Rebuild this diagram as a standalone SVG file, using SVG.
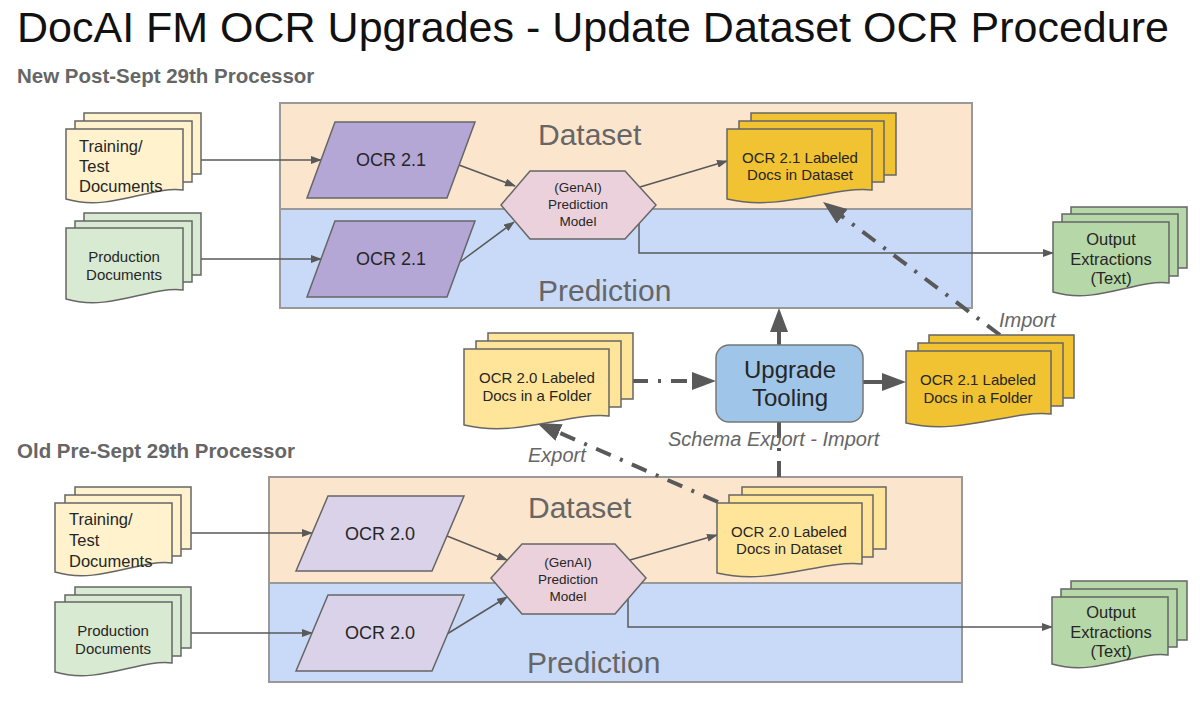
<svg xmlns="http://www.w3.org/2000/svg" width="1200" height="723" viewBox="0 0 1200 723">
<style>
text{font-family:"Liberation Sans",Arial,sans-serif;fill:#262626}
.title{font-size:43px;fill:#111}
.sub{font-size:20.5px;font-weight:bold;fill:#666}
.area{font-size:30px;fill:#666}
.lbl{font-size:20px;font-style:italic;fill:#666}
.ds{fill:#fce5cd;stroke:#999;stroke-width:2}
.pr{fill:#c9daf8;stroke:#999;stroke-width:2}
.shp{stroke:#666;stroke-width:1.5}
.t16{font-size:16.5px}
.t15{font-size:15px}
.t18{font-size:18px}
.t13{font-size:13.5px}
.c{text-anchor:middle}
.thin{fill:none;stroke:#595959;stroke-width:1.5}
.thick{fill:none;stroke:#595959;stroke-width:4}
.dd{stroke-dasharray:16 10 3 10}
</style>
<defs>
<marker id="ah" viewBox="0 0 11 8" refX="10" refY="4" markerWidth="11" markerHeight="8" markerUnits="userSpaceOnUse" orient="auto"><path d="M0,0 L11,4 L0,8 Z" fill="#595959"/></marker>
<marker id="big" viewBox="0 0 24 18" refX="2" refY="9" markerWidth="24" markerHeight="18" markerUnits="userSpaceOnUse" orient="auto"><path d="M0,0 L24,9 L0,18 Z" fill="#595959"/></marker>
</defs>
<rect width="1200" height="723" fill="#fff"/>
<text class="title" x="17" y="42">DocAI FM OCR Upgrades - Update Dataset OCR Procedure</text>
<text class="sub" x="17" y="83">New Post-Sept 29th Processor</text>
<text class="sub" x="17" y="458">Old Pre-Sept 29th Processor</text>

<g id="top-dataset"><rect class="ds" x="280" y="103" width="692" height="106"/><text class="area" x="538" y="145">Dataset</text></g>
<g id="top-prediction"><rect class="pr" x="280" y="209" width="692" height="99"/><text class="area" x="538" y="301">Prediction</text></g>
<g id="bot-dataset"><rect class="ds" x="269" y="477" width="693" height="106"/><text class="area" x="528" y="518">Dataset</text></g>
<g id="bot-prediction"><rect class="pr" x="269" y="583" width="693" height="99"/><text class="area" x="527" y="673">Prediction</text></g>

<g id="connectors">
<path class="thin" d="M201,160 H321" marker-end="url(#ah)"/>
<path class="thin" d="M201,259 H321" marker-end="url(#ah)"/>
<path class="thin" d="M459,165 L515,186" marker-end="url(#ah)"/>
<path class="thin" d="M460,262 L514,222" marker-end="url(#ah)"/>
<path class="thin" d="M640,187 L727,161" marker-end="url(#ah)"/>
<path class="thin" d="M639,224 V253 H1053" marker-end="url(#ah)"/>
<path class="thin" d="M191,533 H312" marker-end="url(#ah)"/>
<path class="thin" d="M191,633 H312" marker-end="url(#ah)"/>
<path class="thin" d="M447,536 L507,560" marker-end="url(#ah)"/>
<path class="thin" d="M447,634 L507,597" marker-end="url(#ah)"/>
<path class="thin" d="M630,560 L717,535" marker-end="url(#ah)"/>
<path class="thin" d="M628,599 V627 H1052" marker-end="url(#ah)"/>
<path class="thick dd" d="M632,381 H694" marker-end="url(#big)"/>
<path class="thick" d="M863,382 H884" marker-end="url(#big)"/>
<path class="thick" d="M779,345 V330" marker-end="url(#big)"/>
<path class="thick dd" d="M779,422 V477"/>
<path class="thick dd" d="M718,502 L557.2,431.8" marker-end="url(#big)"/>
<path class="thick dd" d="M1000,335 L840.6,215.2" marker-end="url(#big)"/>
</g>

<g id="top-training">
<rect class="shp" x="84" y="113" width="117" height="61" fill="#fff2cc"/>
<rect class="shp" x="75" y="121" width="117" height="61" fill="#fff2cc"/>
<path class="shp" d="M66,129 H183 V190 C150,186 110,212 66,199 Z" fill="#fff2cc"/>
<text class="t16" x="79" y="152">Training/</text><text class="t16" x="79" y="172">Test</text><text class="t16" x="79" y="192">Documents</text>
</g>
<g id="top-production">
<rect class="shp" x="84" y="213" width="117" height="62" fill="#d9ead3"/>
<rect class="shp" x="75" y="221" width="117" height="61" fill="#d9ead3"/>
<path class="shp" d="M66,228 H183 V290 C150,286 110,312 66,299 Z" fill="#d9ead3"/>
<text class="t15 c" x="124" y="262">Production</text><text class="t15 c" x="124" y="280">Documents</text>
</g>
<g id="top-ocr-a"><polygon class="shp" points="335,122 475,122 447,198 307,198" fill="#b4a7d6"/><text class="t18 c" x="391" y="166">OCR 2.1</text></g>
<g id="top-ocr-b"><polygon class="shp" points="335,221 475,221 447,297 307,297" fill="#b4a7d6"/><text class="t18 c" x="391" y="265">OCR 2.1</text></g>
<g id="top-model"><polygon class="shp" points="501,205 530,171 625,171 656,205 625,239 530,239" fill="#ead1dc"/>
<text class="t13 c" x="578" y="192">(GenAI)</text><text class="t13 c" x="578" y="209">Prediction</text><text class="t13 c" x="578" y="226">Model</text></g>
<g id="top-labeled">
<rect class="shp" x="751" y="113" width="145" height="62" fill="#f1c232"/>
<rect class="shp" x="739" y="121" width="145" height="61" fill="#f1c232"/>
<path class="shp" d="M727,129 H872 V190 C831,186 782,212 727,199 Z" fill="#f1c232"/>
<text class="t15 c" x="800" y="163">OCR 2.1 Labeled</text><text class="t15 c" x="800" y="180">Docs in Dataset</text>
</g>
<g id="top-output">
<rect class="shp" x="1071" y="207" width="116" height="61" fill="#b6d7a8"/>
<rect class="shp" x="1062" y="214" width="116" height="62" fill="#b6d7a8"/>
<path class="shp" d="M1053,222 H1169 V283 C1136,279 1097,305 1053,292 Z" fill="#b6d7a8"/>
<text class="t16 c" x="1111" y="245">Output</text><text class="t16 c" x="1111" y="265">Extractions</text><text class="t16 c" x="1111" y="284">(Text)</text>
</g>

<g id="folder-20">
<rect class="shp" x="488" y="333" width="145" height="66" fill="#ffe599"/>
<rect class="shp" x="476" y="341" width="145" height="66" fill="#ffe599"/>
<path class="shp" d="M464,349 H609 V416 C568,412 519,438 464,425 Z" fill="#ffe599"/>
<text class="t15 c" x="537" y="383">OCR 2.0 Labeled</text><text class="t15 c" x="537" y="401">Docs in a Folder</text>
</g>
<g id="upgrade-tooling"><rect x="716" y="345" width="147" height="77" rx="13" fill="#9fc5e8" stroke="#777" stroke-width="1.5"/>
<text class="c" x="790" y="378" style="font-size:24px">Upgrade</text><text class="c" x="790" y="406" style="font-size:24px">Tooling</text></g>
<g id="folder-21">
<rect class="shp" x="929" y="335" width="145" height="63" fill="#f1c232"/>
<rect class="shp" x="918" y="343" width="145" height="63" fill="#f1c232"/>
<path class="shp" d="M906,351 H1051 V414 C1010,410 961,436 906,423 Z" fill="#f1c232"/>
<text class="t15 c" x="978" y="385">OCR 2.1 Labeled</text><text class="t15 c" x="978" y="403">Docs in a Folder</text>
</g>
<text class="lbl" x="999" y="327">Import</text>
<text class="lbl" x="528" y="462">Export</text>
<text class="lbl" x="668" y="446">Schema Export - Import</text>

<g id="bot-training">
<rect class="shp" x="75" y="487" width="116" height="62" fill="#fff2cc"/>
<rect class="shp" x="65" y="495" width="116" height="61" fill="#fff2cc"/>
<path class="shp" d="M55,503 H172 V563 C139,559 99,585 55,572 Z" fill="#fff2cc"/>
<text class="t16" x="69" y="525">Training/</text><text class="t16" x="69" y="546">Test</text><text class="t16" x="69" y="567">Documents</text>
</g>
<g id="bot-production">
<rect class="shp" x="75" y="587" width="116" height="61" fill="#d9ead3"/>
<rect class="shp" x="65" y="595" width="116" height="61" fill="#d9ead3"/>
<path class="shp" d="M55,602 H172 V663 C139,659 99,685 55,672 Z" fill="#d9ead3"/>
<text class="t15 c" x="113" y="636">Production</text><text class="t15 c" x="113" y="654">Documents</text>
</g>
<g id="bot-ocr-a"><polygon class="shp" points="328,496 464,496 432,571 296,571" fill="#d9d2e9"/><text class="t18 c" x="380" y="540">OCR 2.0</text></g>
<g id="bot-ocr-b"><polygon class="shp" points="328,595 464,595 432,671 296,671" fill="#d9d2e9"/><text class="t18 c" x="380" y="639">OCR 2.0</text></g>
<g id="bot-model"><polygon class="shp" points="491,578 522,544 615,544 646,578 615,614 522,614" fill="#ead1dc"/>
<text class="t13 c" x="568" y="567">(GenAI)</text><text class="t13 c" x="568" y="584">Prediction</text><text class="t13 c" x="568" y="601">Model</text></g>
<g id="bot-labeled">
<rect class="shp" x="742" y="487" width="144" height="62" fill="#ffe599"/>
<rect class="shp" x="729" y="495" width="144" height="62" fill="#ffe599"/>
<path class="shp" d="M717,503 H862 V564 C821,560 772,586 717,573 Z" fill="#ffe599"/>
<text class="t15 c" x="789" y="537">OCR 2.0 Labeled</text><text class="t15 c" x="789" y="554">Docs in Dataset</text>
</g>
<g id="bot-output">
<rect class="shp" x="1071" y="581" width="116" height="59" fill="#b6d7a8"/>
<rect class="shp" x="1061" y="589" width="116" height="58" fill="#b6d7a8"/>
<path class="shp" d="M1052,597 H1168 V655 C1135,651 1096,677 1052,664 Z" fill="#b6d7a8"/>
<text class="t16 c" x="1111" y="618">Output</text><text class="t16 c" x="1111" y="638">Extractions</text><text class="t16 c" x="1111" y="657">(Text)</text>
</g>
</svg>
